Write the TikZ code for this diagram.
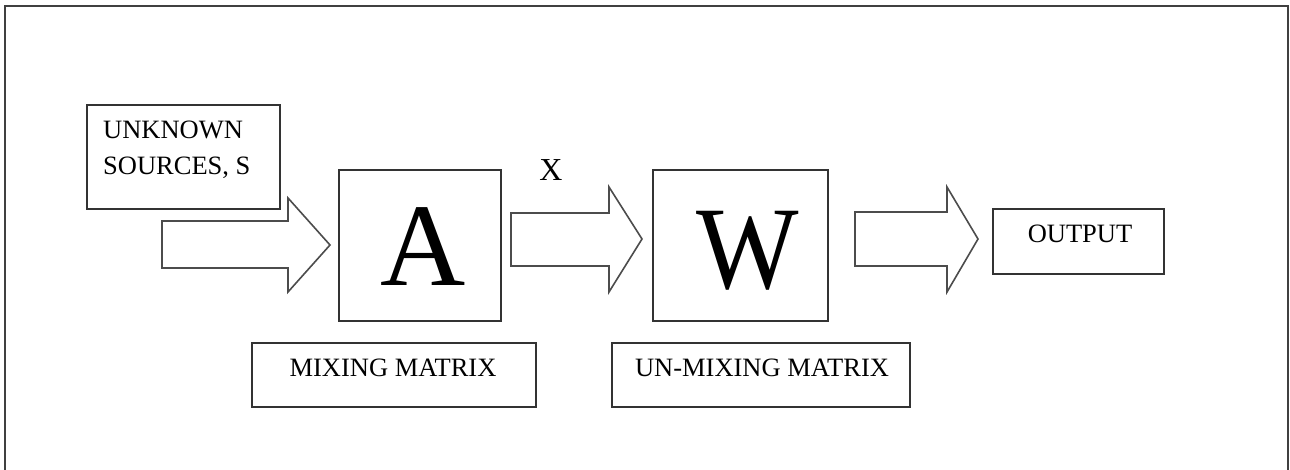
\documentclass[tikz,border=0pt]{standalone}
\usepackage{fontspec}
\setmainfont{Liberation Serif}
\begin{document}
\begin{tikzpicture}[x=1pt,y=-1pt,
  frame/.style={draw=black!75,line width=1.6pt},
  blockbox/.style={draw=black!80,line width=1.8pt,inner sep=0pt,anchor=north west},
  fatarrow/.style={draw=black!70,line width=1.6pt,line join=miter,fill=white},
  caption/.style={inner sep=0pt,font=\fontsize{26.5}{30}\selectfont},
  bigletter/.style={inner sep=0pt,anchor=base,font=\fontsize{118}{118}\selectfont}]
\useasboundingbox (0,0) rectangle (1290,470);
\fill[white] (0,0) rectangle (1290,470);
% outer frame, open at the bottom
\draw[frame] (5,480) -- (5,6) -- (1288,6) -- (1288,480);

% boxes
\node[blockbox,minimum width=193pt,minimum height=104pt] (src) at (86,104) {};
\node[blockbox,minimum width=162pt,minimum height=151pt] (A) at (338,169) {};
\node[blockbox,minimum width=175pt,minimum height=151pt] (W) at (652,169) {};
\node[blockbox,minimum width=171pt,minimum height=65pt] (out) at (992,208) {};
\node[blockbox,minimum width=284pt,minimum height=64pt] (mix) at (251,342) {};
\node[blockbox,minimum width=298pt,minimum height=64pt] (unmix) at (611,342) {};

% texts
\node[caption,anchor=base west] (srcA) at (103,139) {UNKNOWN};
\node[caption,anchor=base west] (srcB) at (103,175) {SOURCES, S};
\node[bigletter] (Aletter) at (423,286) {A};
\node[bigletter,xscale=0.92] (Wletter) at (748,288) {W};
\node[caption,anchor=base] (outtext) at (1080,243) {OUTPUT};
\node[caption,anchor=base] (mixtext) at (393,376) {MIXING MATRIX};
\node[caption,anchor=base] (unmixtext) at (762,376) {UN-MIXING MATRIX};
\node[inner sep=0pt,anchor=base,font=\fontsize{32}{32}\selectfont] (xlabel) at (551,181) {X};

% block arrows
\draw[fatarrow] (162,221) -- (288,221) -- (288,198) -- (330,245) -- (288,292) -- (288,268) -- (162,268) -- cycle;
\draw[fatarrow] (511,213) -- (609,213) -- (609,187) -- (642,239) -- (609,292) -- (609,266) -- (511,266) -- cycle;
\draw[fatarrow] (855,212) -- (947,212) -- (947,187) -- (978,239) -- (947,292) -- (947,266) -- (855,266) -- cycle;
\end{tikzpicture}
\end{document}
